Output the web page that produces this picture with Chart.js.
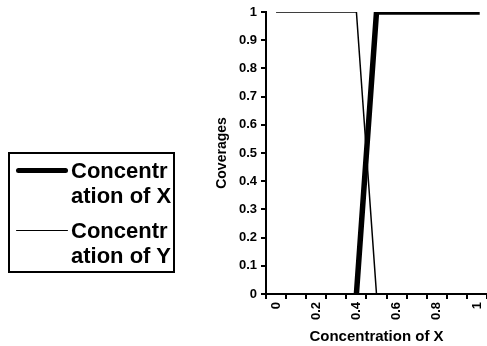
<!DOCTYPE html>
<html>
<head>
<meta charset="utf-8">
<script src="https://cdn.jsdelivr.net/npm/chart.js@4.4.1/dist/chart.umd.min.js"></script>
<style>
    html, body { margin: 0; padding: 0; background: #fff; }
    #wrap { position: relative; width: 487px; height: 346px; }
    #legend {
        position: absolute; left: 8px; top: 152px; width: 163px; height: 117px;
        border: 2px solid #000; font: bold 22px "Liberation Sans", Arial, sans-serif; color: #000;
    }
    .item { position: absolute; left: 0; height: 50px; width: 163px; }
    .swatch { position: absolute; left: 6px; width: 52px; background: #000; border-radius: 3px; }
    .txt { position: absolute; left: 61px; top: 0; width: 102px; line-height: 25px; word-break: break-all; }
</style>
</head>
<body>
<div id="wrap">
    <canvas id="chart" width="487" height="346"></canvas>
    <div id="legend"></div>
</div>
<script>
const categories = ['0', '0.1', '0.2', '0.3', '0.4', '0.5', '0.6', '0.7', '0.8', '0.9', '1'];
const seriesNames = ['Concentration of X', 'Concentration of Y'];
const concX = [null, null, null, null, 0, 1, 1, 1, 1, 1, 1];
const concY = [1, 1, 1, 1, 1, 0, 0, 0, 0, 0, 0];
const yTicks = [0, 0.1, 0.2, 0.3, 0.4, 0.5, 0.6, 0.7, 0.8, 0.9, 1];

const font = '"Liberation Sans", Arial, sans-serif';

const ctx = document.getElementById('chart').getContext('2d');

const chart = new Chart(ctx, {
    type: 'line',
    data: {
        labels: categories,
        datasets: [
            {
                label: seriesNames[0],
                data: concX,
                borderColor: '#000',
                borderWidth: 5.5,
                borderCapStyle: 'square',
                pointRadius: 0,
                fill: false
            },
            {
                label: seriesNames[1],
                data: concY,
                borderColor: '#000',
                borderWidth: 1.5,
                pointRadius: 0,
                fill: false
            }
        ]
    },
    options: {
        responsive: false,
        animation: false,
        layout: { padding: { left: 210, top: 12, right: 0, bottom: 0 } },
        plugins: {
            legend: { display: false },
            tooltip: { enabled: false }
        },
        scales: {
            x: {
                type: 'category',
                offset: true,
                afterFit: (s) => { s.height = 52; s.paddingRight = 0; s.paddingLeft = 0; },
                border: { color: '#000', width: 2 },
                grid: { offset: true, drawOnChartArea: false, color: '#000', lineWidth: 2, tickLength: 5 },
                ticks: {
                    autoSkip: false,
                    minRotation: 90,
                    maxRotation: 90,
                    padding: 3,
                    color: '#000',
                    font: { family: font, size: 13, weight: 'bold' },
                    callback: (v, i) => (i % 2 === 0 ? categories[i] : '')
                },
                title: {
                    display: true,
                    text: 'Concentration of X',
                    color: '#000',
                    font: { family: font, size: 15, weight: 'bold' },
                    padding: { top: 2, bottom: 0 }
                }
            },
            y: {
                min: 0,
                max: 1,
                afterBuildTicks: (s) => { s.ticks = yTicks.map(v => ({ value: v })); },
                afterFit: (s) => { s.width = 56; },
                border: { color: '#000', width: 2 },
                grid: { drawOnChartArea: false, color: '#000', lineWidth: 2, tickLength: 5 },
                ticks: {
                    padding: 4,
                    color: '#000',
                    font: { family: font, size: 13, weight: 'bold' },
                    callback: (v) => String(Math.round(v * 10) / 10)
                },
                title: {
                    display: true,
                    text: 'Coverages',
                    color: '#000',
                    font: { family: font, size: 14, weight: 'bold' },
                    padding: { top: 4, bottom: 4 }
                }
            }
        }
    }
});

// legend box built from the datasets
const legend = document.getElementById('legend');
chart.data.datasets.forEach((ds, i) => {
    const item = document.createElement('div');
    item.className = 'item';
    item.style.top = (4 + i * 60) + 'px';
    const sw = document.createElement('div');
    sw.className = 'swatch';
    sw.style.height = ds.borderWidth + 'px';
    sw.style.top = (12.5 - ds.borderWidth / 2) + 'px';
    const txt = document.createElement('div');
    txt.className = 'txt';
    txt.textContent = ds.label;
    item.appendChild(sw);
    item.appendChild(txt);
    legend.appendChild(item);
});
</script>
</body>
</html>
